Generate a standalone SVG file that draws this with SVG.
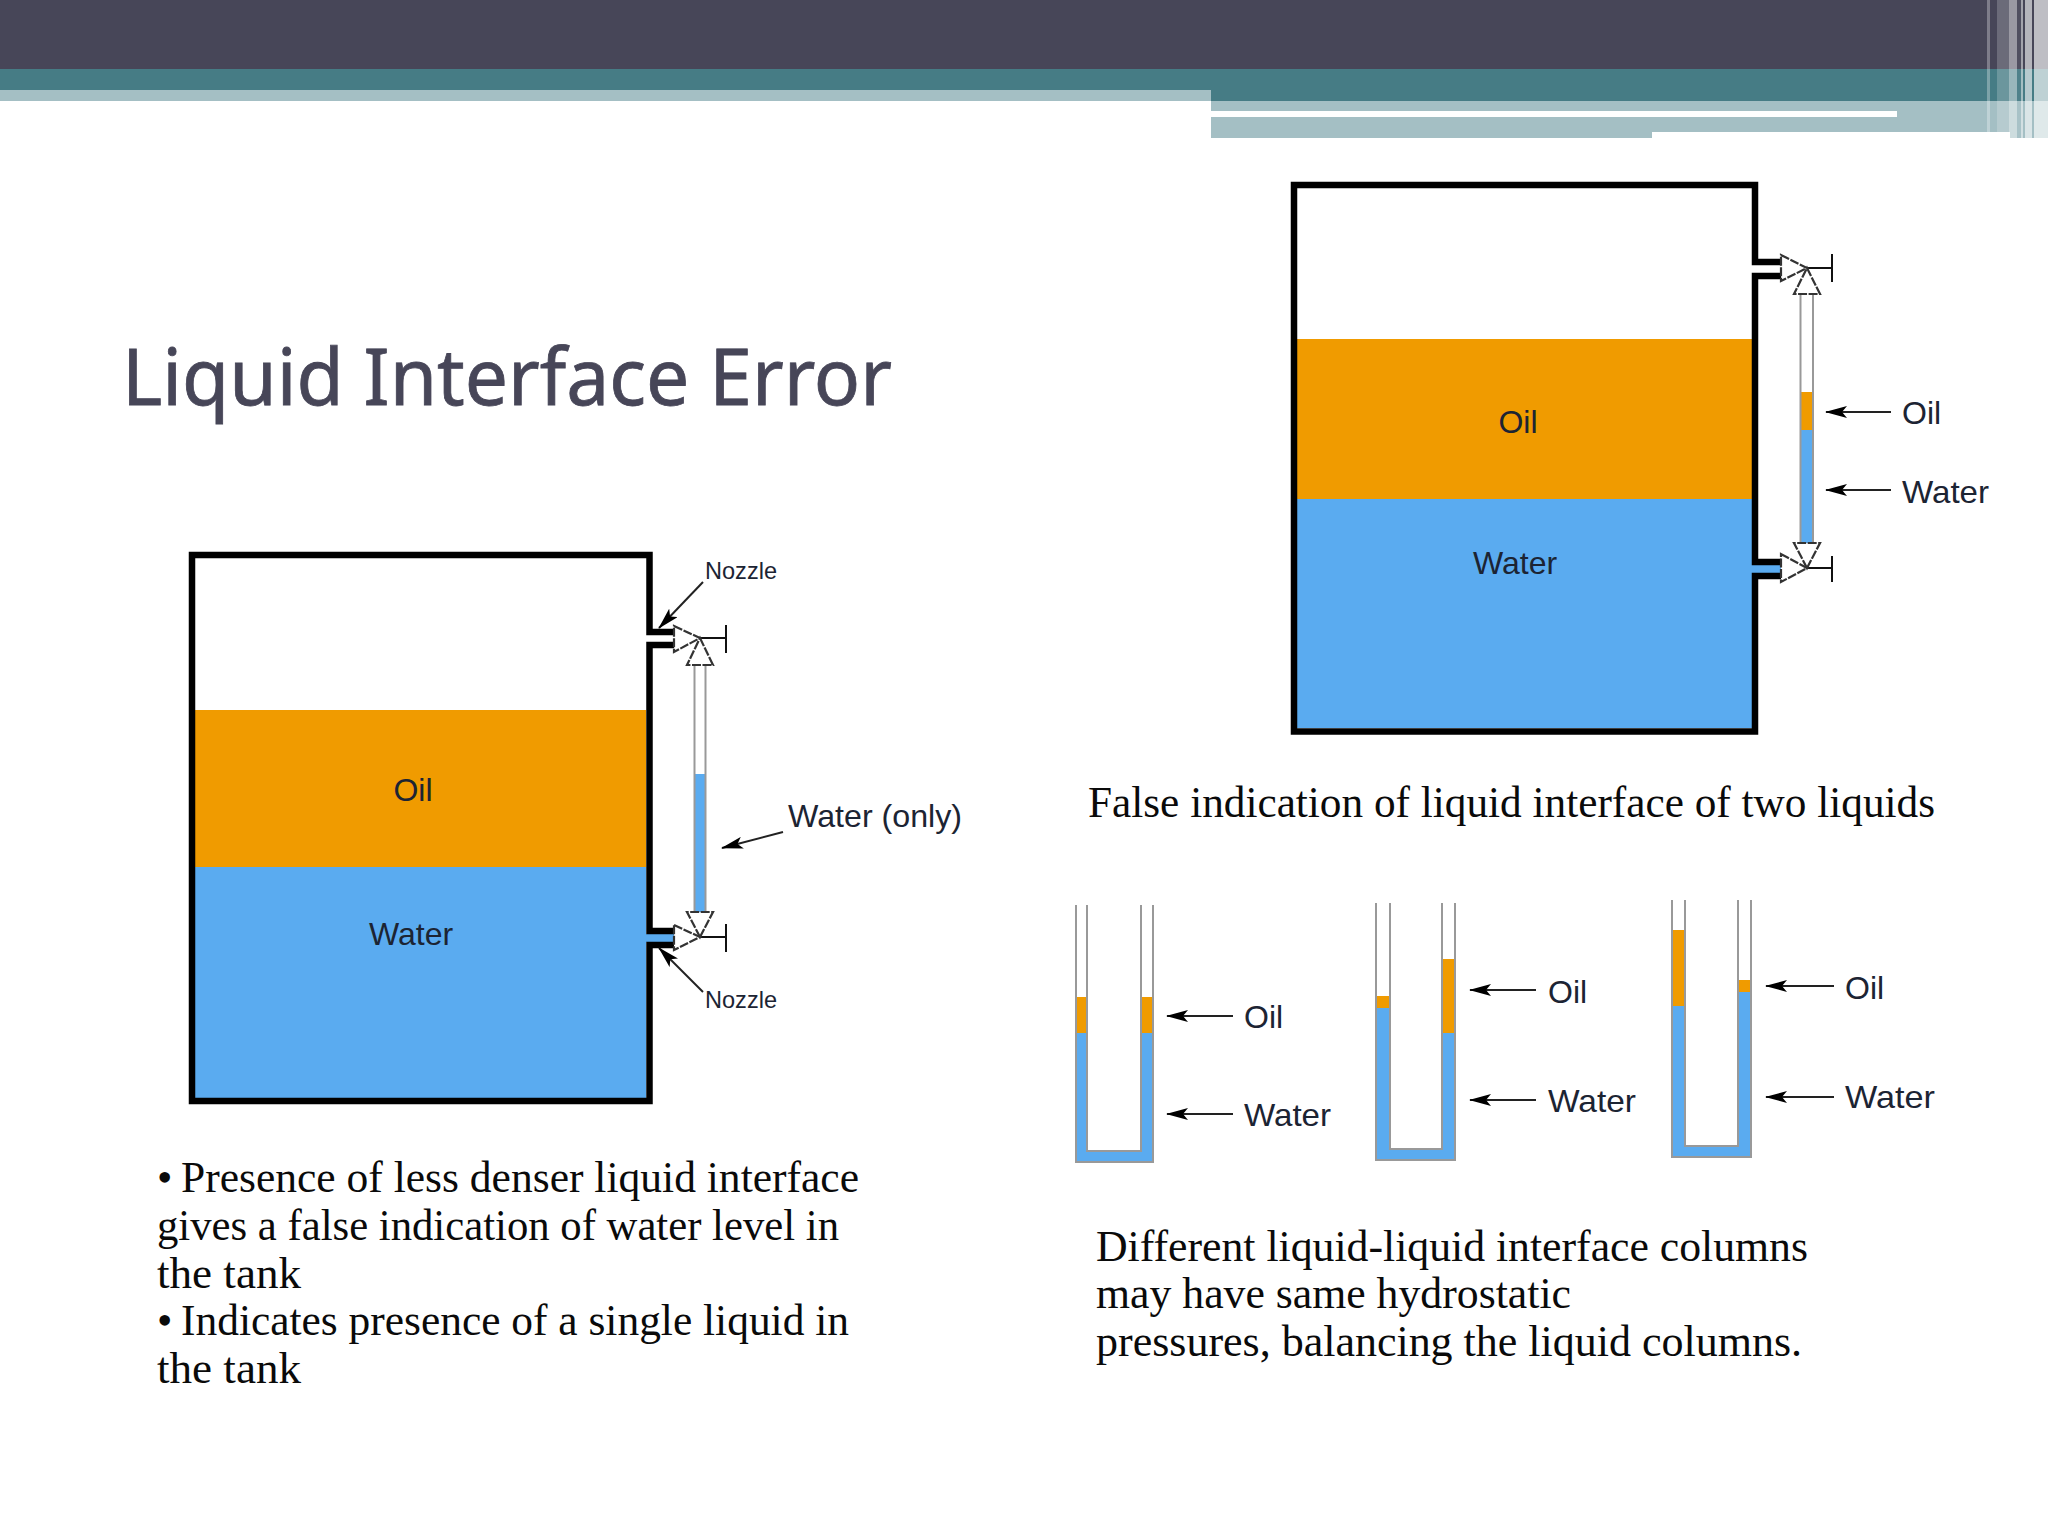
<svg xmlns="http://www.w3.org/2000/svg" width="2048" height="1536" viewBox="0 0 2048 1536">
<style>
.wall{fill:none;stroke:#000;stroke-width:6.5}
.oil{fill:#F09B00}
.water{fill:#5AABF0}
.tube{fill:none;stroke:#999;stroke-width:2}
.valve{fill:#fff;stroke:#333;stroke-width:2.2;stroke-dasharray:9 1.5}
.handle{fill:none;stroke:#111;stroke-width:2}
.lead{fill:none;stroke:#222;stroke-width:2;marker-end:url(#head)}
.lbl{font-family:"Liberation Sans",Arial,sans-serif;font-size:32px;fill:#1c2433}
.noz{font-family:"Liberation Sans",Arial,sans-serif;font-size:24px;fill:#1c2433}
.body{font-family:"Liberation Serif","Times New Roman",serif;font-size:44px;fill:#0a0a0a}
.title{font-family:"Noto Sans",sans-serif;font-size:79px;fill:#474658;stroke:#474658;stroke-width:.8}
.st{fill:#fff}
</style>
<defs>
<marker id="head" markerUnits="userSpaceOnUse" viewBox="0 0 22 12" refX="21" refY="6" markerWidth="22" markerHeight="12" orient="auto">
<path d="M22 6L0 0L5 6L0 12z" fill="#000"/>
</marker>
</defs>
<rect width="2048" height="1536" fill="#fff"/>
<g id="header">
<rect width="2048" height="69" fill="#474658"/>
<rect y="69" width="2048" height="32" fill="#467C85"/>
<rect y="90" width="1211" height="11" fill="#A4BFC4"/>
<rect x="1211" y="101" width="837" height="31" fill="#A4BFC4"/>
<rect x="1211" y="132" width="441" height="6" fill="#A4BFC4"/>
<rect x="2010" y="132" width="38" height="6" fill="#A4BFC4"/>
<rect x="1211" y="111" width="686" height="6" fill="#fff"/>
<rect class="st" x="1987" width="3" height="132" opacity=".3"/>
<rect class="st" x="1997" width="12" height="132" opacity=".2"/>
<rect class="st" x="2009" width="8" height="138" opacity=".45"/>
<rect class="st" x="2017" width="4" height="138" opacity=".05"/>
<rect class="st" x="2021" width="2" height="138" opacity=".5"/>
<rect class="st" x="2025" width="7" height="138" opacity=".6"/>
<rect class="st" x="2034" width="14" height="138" opacity=".65"/>
</g>
<text id="title" class="title" x="122" y="405" textLength="770" lengthAdjust="spacingAndGlyphs">Liquid Interface Error</text>
<g id="tank-left">
<rect class="oil" x="195" y="710" width="451" height="157"/>
<rect class="water" x="195" y="867" width="451" height="231"/>
<rect class="water" x="646" y="934" width="32" height="8"/>
<path class="wall" d="M677 632H649.500V555H192V1101H649.500V945H677M677 645H649.500V931H677"/>
<text class="lbl" x="413" y="801" text-anchor="middle">Oil</text>
<text class="lbl" x="411" y="945" text-anchor="middle">Water</text>
</g>
<g id="gauge-left">
<rect class="water" x="694" y="774" width="12" height="138"/>
<path class="tube" d="M694.500 665V912M705.500 665V912"/>
<path class="handle" d="M700 638H726M726 625V653M700 937H726M726 924V952"/>
<path class="valve" d="M674 626L700 638L674 652z"/>
<path class="valve" d="M700 638L713 665H687z"/>
<path class="valve" d="M674 925L700 937L674 950z"/>
<path class="valve" d="M700 937L713 912H687z"/>
</g>
<g id="tank-right">
<rect class="oil" x="1297" y="339" width="455" height="160"/>
<rect class="water" x="1297" y="499" width="455" height="229"/>
<rect class="water" x="1752" y="565" width="30" height="8"/>
<path class="wall" d="M1783 262H1755V185H1294V731.500H1755V576H1783M1783 276H1755V562H1783"/>
<text class="lbl" x="1518" y="433" text-anchor="middle">Oil</text>
<text class="lbl" x="1515" y="574" text-anchor="middle">Water</text>
</g>
<g id="gauge-right">
<rect class="oil" x="1800" y="392" width="13" height="38"/>
<rect class="water" x="1800" y="430" width="13" height="113"/>
<path class="tube" d="M1800.500 294V543M1813 294V543"/>
<path class="handle" d="M1807 268H1832M1832 254V282M1807 568H1832M1832 556V582"/>
<path class="valve" d="M1781 255L1807 268L1781 281z"/>
<path class="valve" d="M1807 268L1820 294H1794z"/>
<path class="valve" d="M1781 554L1807 568L1781 582z"/>
<path class="valve" d="M1807 568L1820 543H1794z"/>
</g>
<g id="utube-1">
<rect class="oil" x="1076" y="997" width="11" height="36"/>
<rect class="oil" x="1141" y="997" width="12" height="36"/>
<path class="water" d="M1075 1033H1087V1151H1141V1033H1154V1163H1075z"/>
<path class="tube" d="M1076 905V1162H1153V905M1087 905V1151H1141V905"/>
</g>
<g id="utube-2">
<rect class="oil" x="1376" y="996" width="14" height="12"/>
<rect class="oil" x="1442" y="959" width="13" height="74"/>
<path class="water" d="M1375 1008H1390V1149H1442V1033H1456V1161H1375z"/>
<path class="tube" d="M1376 903V1160H1455V903M1390 903V1149H1442V903"/>
</g>
<g id="utube-3">
<rect class="oil" x="1672" y="930" width="13" height="76"/>
<rect class="oil" x="1738" y="980" width="13" height="12"/>
<path class="water" d="M1671 1006H1685V1146H1738V992H1752V1158H1671z"/>
<path class="tube" d="M1672 900V1157H1751V900M1685 900V1146H1738V900"/>
</g>
<g id="connectors">
<path class="lead" d="M703 582L659 628"/>
<path class="lead" d="M703 992L659 948"/>
<path class="lead" d="M783 832L722 848"/>
<path class="lead" d="M1891 412H1826"/>
<path class="lead" d="M1891 490H1826"/>
<path class="lead" d="M1233 1016H1167"/>
<path class="lead" d="M1233 1114H1167"/>
<path class="lead" d="M1536 990H1470"/>
<path class="lead" d="M1536 1100H1470"/>
<path class="lead" d="M1834 986H1766"/>
<path class="lead" d="M1834 1097H1766"/>
</g>
<g id="labels">
<text class="noz" x="705" y="579" textLength="72" lengthAdjust="spacingAndGlyphs">Nozzle</text>
<text class="noz" x="705" y="1008" textLength="72" lengthAdjust="spacingAndGlyphs">Nozzle</text>
<text class="lbl" x="788" y="827" textLength="174" lengthAdjust="spacingAndGlyphs">Water (only)</text>
<text class="lbl" x="1902" y="424">Oil</text>
<text class="lbl" x="1902" y="503" textLength="87" lengthAdjust="spacingAndGlyphs">Water</text>
<text class="lbl" x="1244" y="1028">Oil</text>
<text class="lbl" x="1244" y="1126" textLength="87" lengthAdjust="spacingAndGlyphs">Water</text>
<text class="lbl" x="1548" y="1003">Oil</text>
<text class="lbl" x="1548" y="1112" textLength="88" lengthAdjust="spacingAndGlyphs">Water</text>
<text class="lbl" x="1845" y="999">Oil</text>
<text class="lbl" x="1845" y="1108" textLength="90" lengthAdjust="spacingAndGlyphs">Water</text>
</g>
<g id="captions">
<text class="body" x="157" y="1192">•</text>
<text class="body" x="181" y="1192" textLength="678" lengthAdjust="spacingAndGlyphs">Presence of less denser liquid interface</text>
<text class="body" x="157" y="1240" textLength="682" lengthAdjust="spacingAndGlyphs">gives a false indication of water level in</text>
<text class="body" x="157" y="1288" textLength="144" lengthAdjust="spacingAndGlyphs">the tank</text>
<text class="body" x="157" y="1335">•</text>
<text class="body" x="181" y="1335" textLength="668" lengthAdjust="spacingAndGlyphs">Indicates presence of a single liquid in</text>
<text class="body" x="157" y="1383" textLength="144" lengthAdjust="spacingAndGlyphs">the tank</text>
<text class="body" x="1088" y="817" textLength="847" lengthAdjust="spacingAndGlyphs">False indication of liquid interface of two liquids</text>
<text class="body" x="1096" y="1261" textLength="712" lengthAdjust="spacingAndGlyphs">Different liquid-liquid interface columns</text>
<text class="body" x="1096" y="1308" textLength="475" lengthAdjust="spacingAndGlyphs">may have same hydrostatic</text>
<text class="body" x="1096" y="1356" textLength="706" lengthAdjust="spacingAndGlyphs">pressures, balancing the liquid columns.</text>
</g>
</svg>
